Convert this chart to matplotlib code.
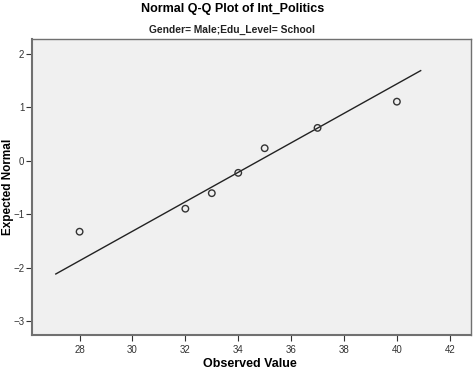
import numpy as np
import matplotlib
matplotlib.use("Agg")
import matplotlib.pyplot as plt

observed = [28, 32, 33, 34, 35, 37, 40]
expected = [-1.33, -0.90, -0.61, -0.23, 0.23, 0.61, 1.10]

# reference line end points
line_x = [27.1, 40.9]
line_y = [-2.12, 1.68]

xticks = [28, 30, 32, 34, 36, 38, 40, 42]
yticks = [-3, -2, -1, 0, 1, 2]

plt.rcParams['font.family'] = ['Liberation Sans', 'DejaVu Sans']

fig = plt.figure(figsize=(4.74, 3.72), dpi=100)
ax = fig.add_axes([0.0675, 0.0995, 0.926, 0.7955])
ax.set_facecolor('#f0f0f0')

ax.plot(line_x, line_y, color='#222222', lw=1.0)
ax.scatter(observed, expected, s=22, facecolors='none', edgecolors='#333333', linewidths=1.0, zorder=3)

ax.set_xlim(26.2, 42.8)
ax.set_ylim(-3.26, 2.27)
ax.set_xticks(xticks)
ax.set_yticks(yticks)
ax.tick_params(labelsize=7, colors='#333333', length=4, width=0.8)
ax.tick_params(axis='y', pad=1.5)
for s in ax.spines.values():
    s.set_color('#707070')
    s.set_linewidth(1.0)
ax.spines['left'].set_linewidth(1.5)
ax.spines['bottom'].set_linewidth(1.5)

ax.set_xlabel('Observed Value', fontsize=9, fontweight='bold')
ax.xaxis.set_label_coords(0.497, -0.078)
fig.text(8 / 474, 0.497, 'Expected Normal', rotation=90, ha='center', va='center',
         fontsize=8.5, fontweight='bold')

fig.text(0.49, 0.975, 'Normal Q-Q Plot of Int_Politics', ha='center', va='center',
         fontsize=9, fontweight='bold')
fig.text(0.49, 0.919, 'Gender= Male;Edu_Level= School', ha='center', va='center',
         fontsize=7.4, fontweight='bold', color='#222222')

fig.savefig('out.png', dpi=100)
